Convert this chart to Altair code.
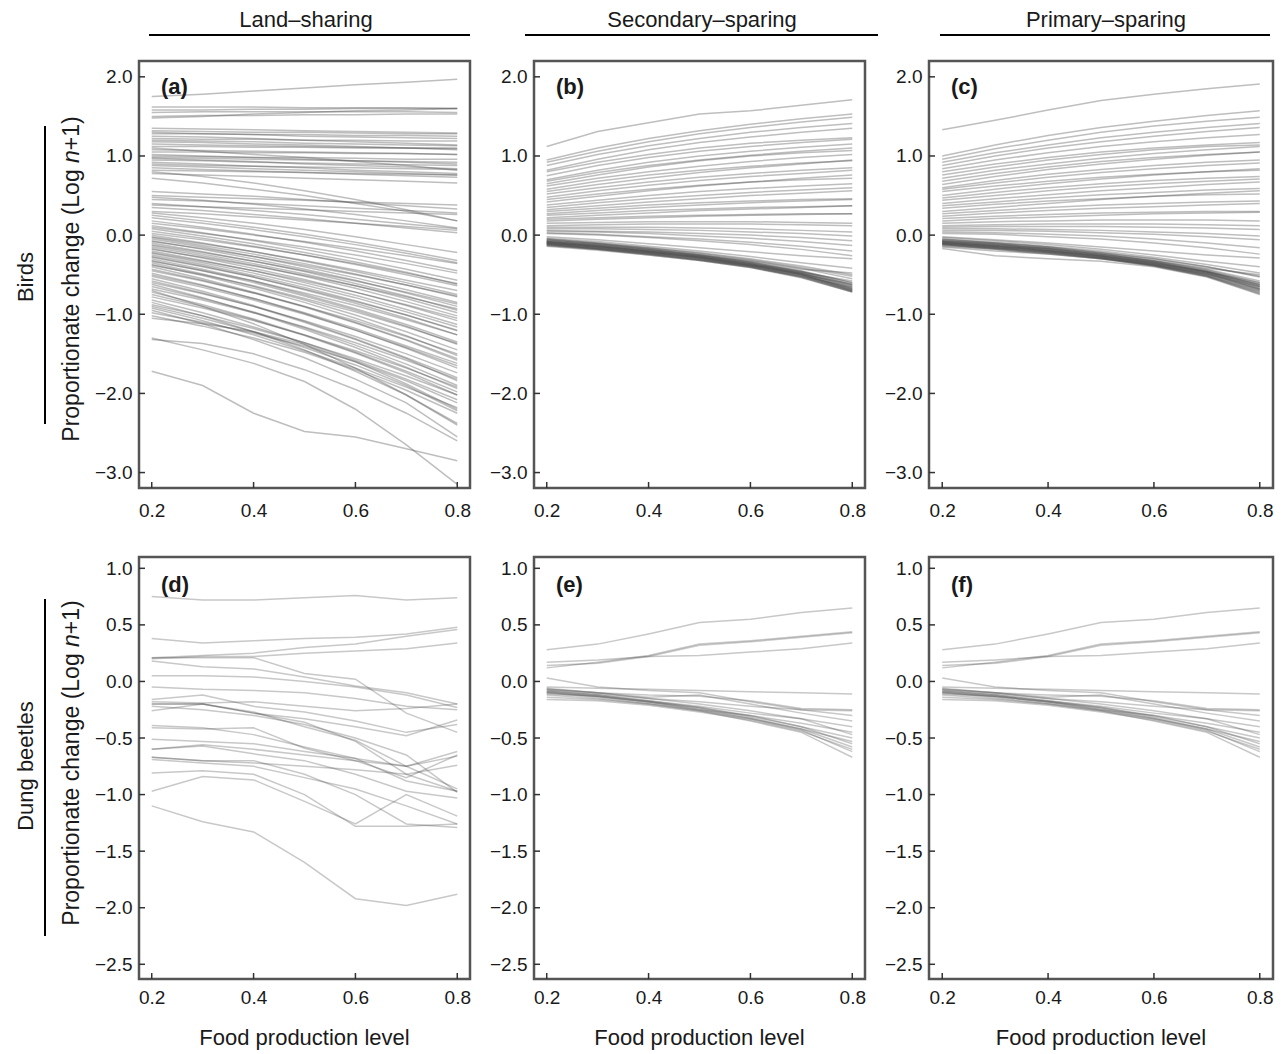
import altair as alt
import pandas as pd

LEVELS = [0.2, 0.3, 0.4, 0.5, 0.6, 0.7, 0.8]
X_TICKS = [0.2, 0.4, 0.6, 0.8]
Y_TICKS_BIRDS = [-3.0, -2.0, -1.0, 0.0, 1.0, 2.0]
Y_TICKS_BEETLES = [-2.5, -2.0, -1.5, -1.0, -0.5, 0.0, 0.5, 1.0]
HEADERS = ["Land\u2013sharing", "Secondary\u2013sparing", "Primary\u2013sparing"]
ROWS = ["Birds", "Dung beetles"]
LETTERS = ["(a)", "(b)", "(c)", "(d)", "(e)", "(f)"]
X_TITLE = "Food production level"

# ---- (a) Birds, land-sharing ----
birds_sharing = [
    [1.75, 1.78, 1.82, 1.86, 1.90, 1.93, 1.97],
    [1.62, 1.62, 1.62, 1.61, 1.61, 1.61, 1.60],
    [1.58, 1.58, 1.59, 1.59, 1.60, 1.60, 1.60],
    [1.55, 1.56, 1.56, 1.56, 1.56, 1.56, 1.55],
    [1.50, 1.51, 1.51, 1.52, 1.52, 1.53, 1.53],
    [1.48, 1.50, 1.53, 1.55, 1.57, 1.58, 1.60],
    [1.35, 1.34, 1.33, 1.32, 1.31, 1.30, 1.29],
    [1.32, 1.31, 1.30, 1.30, 1.29, 1.28, 1.28],
    [1.30, 1.28, 1.27, 1.25, 1.24, 1.23, 1.22],
    [1.28, 1.28, 1.27, 1.27, 1.26, 1.26, 1.25],
    [1.25, 1.24, 1.22, 1.20, 1.18, 1.16, 1.14],
    [1.22, 1.21, 1.21, 1.20, 1.20, 1.19, 1.19],
    [1.20, 1.19, 1.18, 1.16, 1.15, 1.14, 1.13],
    [1.18, 1.17, 1.15, 1.14, 1.12, 1.10, 1.08],
    [1.15, 1.14, 1.13, 1.12, 1.11, 1.10, 1.09],
    [1.12, 1.12, 1.11, 1.11, 1.10, 1.10, 1.10],
    [1.08, 1.07, 1.06, 1.05, 1.04, 1.03, 1.02],
    [1.05, 1.05, 1.04, 1.04, 1.03, 1.03, 1.02],
    [1.02, 1.00, 0.98, 0.96, 0.94, 0.92, 0.90],
    [1.00, 0.99, 0.98, 0.98, 0.97, 0.96, 0.96],
    [0.98, 0.97, 0.96, 0.95, 0.94, 0.93, 0.92],
    [0.97, 0.95, 0.93, 0.90, 0.88, 0.86, 0.84],
    [0.95, 0.94, 0.92, 0.91, 0.90, 0.89, 0.88],
    [0.92, 0.90, 0.87, 0.85, 0.82, 0.80, 0.78],
    [0.90, 0.88, 0.87, 0.86, 0.85, 0.84, 0.83],
    [0.88, 0.86, 0.84, 0.82, 0.80, 0.78, 0.76],
    [0.85, 0.83, 0.81, 0.79, 0.77, 0.75, 0.73],
    [0.82, 0.81, 0.80, 0.79, 0.78, 0.77, 0.76],
    [0.78, 0.76, 0.74, 0.72, 0.70, 0.68, 0.66],
    [1.10, 1.06, 1.02, 0.98, 0.93, 0.88, 0.82],
    [0.80, 0.74, 0.66, 0.56, 0.45, 0.32, 0.18],
    [0.72, 0.66, 0.58, 0.50, 0.40, 0.30, 0.18],
    [0.55, 0.52, 0.49, 0.45, 0.41, 0.37, 0.33],
    [0.50, 0.48, 0.46, 0.44, 0.42, 0.40, 0.38],
    [0.48, 0.44, 0.39, 0.33, 0.26, 0.18, 0.09],
    [0.45, 0.43, 0.40, 0.37, 0.34, 0.31, 0.28],
    [0.40, 0.36, 0.31, 0.26, 0.20, 0.14, 0.08],
    [0.38, 0.36, 0.34, 0.32, 0.30, 0.28, 0.26],
    [0.35, 0.31, 0.26, 0.21, 0.15, 0.09, 0.03],
    [0.30, 0.27, 0.23, 0.19, 0.15, 0.11, 0.06],
    [0.28, 0.22, 0.15, 0.07, -0.02, -0.12, -0.22],
    [0.25, 0.18, 0.10, 0.01, -0.09, -0.20, -0.32],
    [0.22, 0.15, 0.07, -0.02, -0.12, -0.23, -0.35],
    [0.18, 0.10, 0.01, -0.09, -0.20, -0.32, -0.45],
    [0.15, 0.08, 0.00, -0.08, -0.17, -0.26, -0.36],
    [0.12, 0.03, -0.07, -0.18, -0.30, -0.43, -0.57],
    [0.10, 0.02, -0.06, -0.15, -0.25, -0.36, -0.48],
    [0.08, -0.01, -0.11, -0.22, -0.34, -0.47, -0.62],
    [0.05, -0.04, -0.14, -0.25, -0.37, -0.50, -0.64],
    [0.02, -0.06, -0.15, -0.25, -0.36, -0.48, -0.61],
    [0.00, -0.10, -0.21, -0.33, -0.46, -0.60, -0.75],
    [-0.02, -0.11, -0.21, -0.32, -0.44, -0.57, -0.70],
    [-0.03, -0.13, -0.24, -0.36, -0.49, -0.63, -0.78],
    [-0.05, -0.15, -0.27, -0.40, -0.54, -0.69, -0.85],
    [-0.07, -0.18, -0.30, -0.43, -0.57, -0.73, -0.90],
    [-0.08, -0.17, -0.27, -0.38, -0.50, -0.63, -0.77],
    [-0.10, -0.21, -0.33, -0.46, -0.61, -0.77, -0.95],
    [-0.12, -0.22, -0.33, -0.45, -0.58, -0.72, -0.87],
    [-0.13, -0.24, -0.36, -0.49, -0.64, -0.80, -0.98],
    [-0.15, -0.26, -0.38, -0.52, -0.67, -0.84, -1.02],
    [-0.17, -0.29, -0.42, -0.56, -0.72, -0.89, -1.08],
    [-0.18, -0.28, -0.39, -0.51, -0.64, -0.78, -0.93],
    [-0.20, -0.32, -0.45, -0.60, -0.76, -0.94, -1.13],
    [-0.22, -0.33, -0.45, -0.58, -0.72, -0.88, -1.05],
    [-0.23, -0.35, -0.48, -0.63, -0.79, -0.97, -1.16],
    [-0.25, -0.37, -0.51, -0.66, -0.83, -1.01, -1.21],
    [-0.27, -0.39, -0.53, -0.69, -0.86, -1.05, -1.26],
    [-0.28, -0.40, -0.53, -0.68, -0.84, -1.01, -1.20],
    [-0.30, -0.43, -0.58, -0.75, -0.93, -1.13, -1.35],
    [-0.32, -0.45, -0.60, -0.77, -0.95, -1.15, -1.38],
    [-0.33, -0.45, -0.58, -0.73, -0.89, -1.07, -1.26],
    [-0.35, -0.49, -0.65, -0.82, -1.01, -1.22, -1.45],
    [-0.37, -0.51, -0.67, -0.85, -1.05, -1.27, -1.52],
    [-0.38, -0.50, -0.64, -0.80, -0.97, -1.16, -1.37],
    [-0.40, -0.55, -0.72, -0.90, -1.10, -1.32, -1.56],
    [-0.43, -0.57, -0.73, -0.91, -1.11, -1.33, -1.58],
    [-0.45, -0.58, -0.73, -0.90, -1.08, -1.28, -1.50],
    [-0.48, -0.63, -0.80, -0.99, -1.20, -1.43, -1.68],
    [-0.50, -0.64, -0.80, -0.98, -1.18, -1.40, -1.62],
    [-0.52, -0.66, -0.82, -1.00, -1.20, -1.42, -1.65],
    [-0.55, -0.71, -0.89, -1.09, -1.31, -1.55, -1.80],
    [-0.58, -0.73, -0.90, -1.10, -1.32, -1.56, -1.84],
    [-0.60, -0.74, -0.90, -1.08, -1.28, -1.50, -1.74],
    [-0.62, -0.79, -0.98, -1.19, -1.42, -1.67, -1.94],
    [-0.65, -0.80, -0.97, -1.17, -1.39, -1.63, -1.90],
    [-0.68, -0.82, -0.98, -1.16, -1.36, -1.58, -1.82],
    [-0.72, -0.88, -1.06, -1.26, -1.48, -1.72, -1.98],
    [-0.75, -0.90, -1.07, -1.27, -1.49, -1.74, -2.02],
    [-0.78, -0.92, -1.08, -1.26, -1.46, -1.68, -1.92],
    [-0.82, -0.98, -1.16, -1.36, -1.58, -1.82, -2.08],
    [-0.88, -1.02, -1.18, -1.36, -1.56, -1.78, -2.02],
    [-0.90, -1.05, -1.22, -1.42, -1.64, -1.90, -2.22],
    [-0.92, -1.08, -1.26, -1.46, -1.68, -1.92, -2.18],
    [-0.98, -1.10, -1.24, -1.40, -1.60, -1.84, -2.12],
    [-1.02, -1.15, -1.30, -1.48, -1.70, -1.96, -2.25],
    [-1.05, -1.12, -1.22, -1.38, -1.60, -1.88, -2.20],
    [-0.85, -1.02, -1.22, -1.45, -1.72, -2.02, -2.38],
    [-0.70, -0.90, -1.12, -1.38, -1.68, -2.02, -2.40],
    [-0.95, -1.12, -1.32, -1.55, -1.82, -2.12, -2.55],
    [-1.32, -1.37, -1.50, -1.70, -1.95, -2.25, -2.60],
    [-1.30, -1.45, -1.62, -1.85, -2.20, -2.65, -3.15],
    [-1.72, -1.90, -2.25, -2.48, -2.55, -2.70, -2.85],
]

# ---- (b) Birds, secondary-sparing ----
birds_secondary = [
    [1.12, 1.31, 1.42, 1.53, 1.57, 1.64, 1.71],
    [0.95, 1.10, 1.22, 1.32, 1.40, 1.47, 1.53],
    [0.92, 1.06, 1.18, 1.28, 1.36, 1.43, 1.49],
    [0.88, 1.02, 1.13, 1.22, 1.30, 1.36, 1.41],
    [0.82, 0.96, 1.08, 1.17, 1.24, 1.30, 1.35],
    [0.80, 0.92, 1.02, 1.10, 1.16, 1.20, 1.23],
    [0.75, 0.88, 0.98, 1.06, 1.12, 1.17, 1.21],
    [0.70, 0.82, 0.92, 1.00, 1.06, 1.11, 1.15],
    [0.68, 0.79, 0.88, 0.95, 1.01, 1.06, 1.10],
    [0.65, 0.76, 0.86, 0.94, 1.00, 1.04, 1.07],
    [0.62, 0.72, 0.80, 0.87, 0.93, 0.98, 1.02],
    [0.58, 0.68, 0.76, 0.82, 0.87, 0.91, 0.94],
    [0.55, 0.64, 0.72, 0.79, 0.85, 0.90, 0.95],
    [0.52, 0.60, 0.67, 0.73, 0.78, 0.82, 0.85],
    [0.48, 0.56, 0.63, 0.69, 0.74, 0.78, 0.82],
    [0.45, 0.52, 0.58, 0.63, 0.67, 0.70, 0.72],
    [0.42, 0.49, 0.56, 0.62, 0.67, 0.72, 0.76],
    [0.38, 0.44, 0.50, 0.55, 0.59, 0.62, 0.65],
    [0.35, 0.41, 0.46, 0.50, 0.54, 0.57, 0.60],
    [0.32, 0.37, 0.42, 0.46, 0.50, 0.53, 0.56],
    [0.30, 0.34, 0.38, 0.41, 0.43, 0.45, 0.46],
    [0.27, 0.31, 0.35, 0.38, 0.41, 0.43, 0.45],
    [0.25, 0.28, 0.31, 0.33, 0.35, 0.36, 0.37],
    [0.22, 0.25, 0.28, 0.31, 0.33, 0.35, 0.37],
    [0.20, 0.22, 0.24, 0.25, 0.26, 0.27, 0.27],
    [0.18, 0.20, 0.22, 0.24, 0.25, 0.26, 0.27],
    [0.15, 0.16, 0.17, 0.17, 0.17, 0.16, 0.15],
    [0.12, 0.13, 0.14, 0.14, 0.14, 0.13, 0.12],
    [0.10, 0.10, 0.10, 0.09, 0.08, 0.06, 0.04],
    [0.08, 0.08, 0.07, 0.06, 0.04, 0.02, -0.01],
    [0.06, 0.05, 0.04, 0.02, 0.00, -0.03, -0.07],
    [0.05, 0.04, 0.02, -0.01, -0.04, -0.08, -0.13],
    [0.03, 0.01, -0.02, -0.05, -0.09, -0.14, -0.20],
    [0.02, 0.00, -0.03, -0.07, -0.12, -0.18, -0.26],
    [-0.02, -0.06, -0.11, -0.16, -0.21, -0.26, -0.30],
    [-0.04, -0.08, -0.14, -0.20, -0.27, -0.35, -0.42],
    [-0.05, -0.10, -0.16, -0.22, -0.30, -0.39, -0.50],
    [-0.05, -0.10, -0.16, -0.23, -0.31, -0.41, -0.52],
    [-0.06, -0.11, -0.17, -0.24, -0.32, -0.42, -0.55],
    [-0.07, -0.12, -0.18, -0.25, -0.34, -0.45, -0.60],
    [-0.07, -0.12, -0.18, -0.25, -0.34, -0.46, -0.62],
    [-0.08, -0.13, -0.19, -0.26, -0.35, -0.47, -0.63],
    [-0.08, -0.13, -0.19, -0.26, -0.35, -0.46, -0.60],
    [-0.09, -0.14, -0.20, -0.27, -0.36, -0.48, -0.65],
    [-0.09, -0.14, -0.20, -0.27, -0.36, -0.48, -0.66],
    [-0.10, -0.15, -0.21, -0.28, -0.37, -0.49, -0.67],
    [-0.10, -0.15, -0.21, -0.28, -0.37, -0.49, -0.68],
    [-0.11, -0.16, -0.22, -0.29, -0.38, -0.50, -0.68],
    [-0.11, -0.16, -0.22, -0.29, -0.38, -0.50, -0.70],
    [-0.12, -0.17, -0.23, -0.30, -0.39, -0.52, -0.70],
    [-0.12, -0.17, -0.23, -0.30, -0.39, -0.51, -0.71],
    [-0.13, -0.18, -0.24, -0.31, -0.40, -0.53, -0.71],
    [-0.13, -0.18, -0.24, -0.31, -0.40, -0.53, -0.72],
    [-0.14, -0.19, -0.25, -0.32, -0.41, -0.54, -0.72],
    [-0.08, -0.13, -0.20, -0.27, -0.36, -0.47, -0.58],
    [-0.10, -0.15, -0.22, -0.29, -0.38, -0.49, -0.62],
    [-0.06, -0.11, -0.18, -0.25, -0.33, -0.43, -0.48],
    [-0.12, -0.18, -0.25, -0.32, -0.41, -0.52, -0.66],
    [-0.11, -0.17, -0.24, -0.31, -0.39, -0.50, -0.69],
    [-0.09, -0.14, -0.21, -0.28, -0.37, -0.48, -0.64],
]

# ---- (c) Birds, primary-sparing ----
birds_primary = [
    [1.33, 1.45, 1.58, 1.70, 1.78, 1.85, 1.91],
    [1.00, 1.14, 1.26, 1.36, 1.44, 1.51, 1.57],
    [0.96, 1.09, 1.20, 1.30, 1.38, 1.44, 1.49],
    [0.92, 1.04, 1.14, 1.23, 1.30, 1.36, 1.41],
    [0.88, 1.00, 1.10, 1.18, 1.25, 1.31, 1.36],
    [0.84, 0.95, 1.04, 1.12, 1.18, 1.23, 1.27],
    [0.80, 0.90, 0.98, 1.05, 1.10, 1.14, 1.17],
    [0.76, 0.86, 0.95, 1.02, 1.08, 1.12, 1.14],
    [0.72, 0.82, 0.90, 0.97, 1.03, 1.08, 1.12],
    [0.68, 0.78, 0.86, 0.93, 0.98, 1.02, 1.05],
    [0.64, 0.74, 0.83, 0.90, 0.96, 1.01, 1.05],
    [0.60, 0.69, 0.77, 0.83, 0.88, 0.92, 0.95],
    [0.58, 0.66, 0.73, 0.79, 0.84, 0.88, 0.91],
    [0.55, 0.62, 0.68, 0.73, 0.77, 0.80, 0.82],
    [0.50, 0.58, 0.65, 0.71, 0.76, 0.80, 0.84],
    [0.47, 0.54, 0.60, 0.65, 0.69, 0.72, 0.74],
    [0.44, 0.50, 0.56, 0.61, 0.65, 0.68, 0.71],
    [0.40, 0.46, 0.51, 0.56, 0.60, 0.64, 0.67],
    [0.37, 0.42, 0.47, 0.51, 0.54, 0.57, 0.59],
    [0.34, 0.39, 0.43, 0.46, 0.49, 0.51, 0.52],
    [0.30, 0.35, 0.40, 0.45, 0.49, 0.53, 0.56],
    [0.27, 0.31, 0.35, 0.38, 0.40, 0.42, 0.43],
    [0.24, 0.28, 0.31, 0.34, 0.36, 0.38, 0.40],
    [0.21, 0.24, 0.26, 0.28, 0.29, 0.30, 0.30],
    [0.18, 0.21, 0.23, 0.25, 0.27, 0.28, 0.29],
    [0.15, 0.17, 0.18, 0.19, 0.19, 0.19, 0.18],
    [0.12, 0.13, 0.14, 0.14, 0.14, 0.13, 0.12],
    [0.10, 0.11, 0.11, 0.11, 0.10, 0.09, 0.07],
    [0.08, 0.08, 0.07, 0.06, 0.04, 0.02, -0.01],
    [0.06, 0.06, 0.05, 0.03, 0.01, -0.02, -0.06],
    [0.04, 0.03, 0.01, -0.01, -0.05, -0.10, -0.16],
    [0.02, 0.01, -0.02, -0.05, -0.10, -0.16, -0.24],
    [-0.02, -0.06, -0.10, -0.15, -0.20, -0.25, -0.29],
    [-0.03, -0.07, -0.12, -0.18, -0.25, -0.33, -0.40],
    [-0.05, -0.09, -0.14, -0.20, -0.28, -0.37, -0.48],
    [-0.05, -0.10, -0.15, -0.22, -0.30, -0.40, -0.52],
    [-0.06, -0.10, -0.15, -0.22, -0.30, -0.40, -0.53],
    [-0.07, -0.11, -0.16, -0.23, -0.32, -0.43, -0.58],
    [-0.07, -0.12, -0.17, -0.24, -0.33, -0.44, -0.60],
    [-0.08, -0.12, -0.17, -0.24, -0.33, -0.45, -0.62],
    [-0.08, -0.13, -0.18, -0.25, -0.34, -0.46, -0.63],
    [-0.09, -0.13, -0.18, -0.25, -0.34, -0.46, -0.64],
    [-0.09, -0.14, -0.19, -0.26, -0.35, -0.47, -0.65],
    [-0.10, -0.14, -0.19, -0.26, -0.35, -0.47, -0.66],
    [-0.10, -0.15, -0.20, -0.27, -0.36, -0.48, -0.67],
    [-0.11, -0.15, -0.20, -0.27, -0.36, -0.48, -0.68],
    [-0.11, -0.16, -0.21, -0.28, -0.37, -0.49, -0.69],
    [-0.12, -0.16, -0.21, -0.28, -0.37, -0.50, -0.70],
    [-0.12, -0.17, -0.22, -0.29, -0.38, -0.51, -0.71],
    [-0.13, -0.17, -0.22, -0.29, -0.38, -0.51, -0.72],
    [-0.14, -0.18, -0.23, -0.30, -0.39, -0.52, -0.73],
    [-0.15, -0.20, -0.24, -0.30, -0.39, -0.52, -0.74],
    [-0.17, -0.26, -0.30, -0.33, -0.40, -0.53, -0.75],
    [-0.09, -0.13, -0.19, -0.26, -0.35, -0.46, -0.60],
    [-0.11, -0.16, -0.22, -0.29, -0.37, -0.49, -0.65],
    [-0.07, -0.11, -0.17, -0.24, -0.32, -0.42, -0.50],
    [-0.12, -0.18, -0.24, -0.30, -0.38, -0.49, -0.68],
    [-0.10, -0.14, -0.20, -0.27, -0.36, -0.47, -0.62],
]

# ---- (d) Dung beetles, land-sharing ----
beetles_sharing = [
    [0.75, 0.72, 0.72, 0.74, 0.76, 0.72, 0.74],
    [0.38, 0.34, 0.36, 0.38, 0.39, 0.42, 0.48],
    [0.21, 0.23, 0.25, 0.30, 0.33, 0.40, 0.46],
    [0.20, 0.22, 0.22, 0.25, 0.27, 0.29, 0.34],
    [0.21, 0.21, 0.21, 0.07, 0.02, -0.28, -0.45],
    [0.18, 0.13, 0.11, 0.04, -0.04, -0.10, -0.20],
    [0.05, 0.05, 0.04, 0.00, -0.05, -0.12, -0.23],
    [-0.05, -0.07, -0.08, -0.10, -0.15, -0.22, -0.25],
    [-0.18, -0.19, -0.18, -0.22, -0.26, -0.24, -0.20],
    [-0.16, -0.12, -0.22, -0.27, -0.35, -0.45, -0.38],
    [-0.20, -0.20, -0.28, -0.33, -0.40, -0.48, -0.34],
    [-0.22, -0.25, -0.30, -0.38, -0.50, -0.65, -0.98],
    [-0.20, -0.20, -0.28, -0.36, -0.53, -0.82, -0.97],
    [-0.26, -0.20, -0.27, -0.40, -0.52, -0.75, -0.95],
    [-0.39, -0.41, -0.47, -0.58, -0.68, -0.88, -0.97],
    [-0.41, -0.42, -0.41, -0.59, -0.70, -0.75, -0.62],
    [-0.51, -0.53, -0.55, -0.62, -0.68, -0.75, -0.66],
    [-0.60, -0.57, -0.64, -0.70, -0.82, -0.97, -1.03],
    [-0.60, -0.56, -0.60, -0.65, -0.70, -0.85, -0.65],
    [-0.67, -0.70, -0.72, -0.75, -0.78, -0.82, -0.74],
    [-0.67, -0.70, -0.70, -0.82, -1.00, -1.26, -1.29],
    [-0.69, -0.72, -0.75, -0.85, -0.95, -1.10, -1.26],
    [-0.81, -0.79, -0.82, -1.00, -1.28, -1.28, -1.26],
    [-0.97, -0.84, -0.87, -1.06, -1.26, -1.00, -1.19],
    [-1.10, -1.24, -1.33, -1.60, -1.92, -1.98, -1.88],
]

# ---- (e) Dung beetles, secondary-sparing ----
beetles_secondary = [
    [0.28, 0.33, 0.42, 0.52, 0.55, 0.61, 0.65],
    [0.17, 0.19, 0.22, 0.23, 0.26, 0.29, 0.34],
    [0.12, 0.17, 0.23, 0.33, 0.36, 0.40, 0.44],
    [0.14, 0.16, 0.22, 0.32, 0.35, 0.39, 0.43],
    [0.03, -0.05, -0.08, -0.10, -0.18, -0.25, -0.30],
    [-0.05, -0.06, -0.07, -0.08, -0.09, -0.10, -0.11],
    [-0.07, -0.10, -0.12, -0.13, -0.17, -0.24, -0.25],
    [-0.08, -0.11, -0.15, -0.18, -0.22, -0.25, -0.26],
    [-0.06, -0.10, -0.14, -0.12, -0.20, -0.28, -0.35],
    [-0.09, -0.12, -0.17, -0.22, -0.28, -0.33, -0.40],
    [-0.10, -0.13, -0.18, -0.23, -0.30, -0.37, -0.45],
    [-0.08, -0.12, -0.17, -0.23, -0.31, -0.40, -0.55],
    [-0.09, -0.13, -0.18, -0.24, -0.32, -0.42, -0.58],
    [-0.10, -0.14, -0.19, -0.25, -0.33, -0.43, -0.62],
    [-0.12, -0.15, -0.20, -0.26, -0.35, -0.45, -0.67],
    [-0.11, -0.13, -0.18, -0.25, -0.30, -0.40, -0.50],
    [-0.14, -0.16, -0.20, -0.26, -0.33, -0.42, -0.53],
    [-0.16, -0.17, -0.21, -0.27, -0.34, -0.44, -0.60],
    [-0.07, -0.10, -0.15, -0.20, -0.26, -0.33, -0.47],
]

# ---- (f) Dung beetles, primary-sparing ----
beetles_primary = [
    [0.28, 0.33, 0.42, 0.52, 0.55, 0.61, 0.65],
    [0.17, 0.19, 0.22, 0.23, 0.26, 0.29, 0.34],
    [0.12, 0.17, 0.23, 0.33, 0.36, 0.40, 0.44],
    [0.14, 0.16, 0.22, 0.32, 0.35, 0.39, 0.43],
    [0.03, -0.05, -0.08, -0.10, -0.18, -0.25, -0.30],
    [-0.05, -0.06, -0.07, -0.08, -0.09, -0.10, -0.11],
    [-0.07, -0.10, -0.12, -0.13, -0.17, -0.24, -0.25],
    [-0.08, -0.11, -0.15, -0.18, -0.22, -0.25, -0.26],
    [-0.06, -0.10, -0.14, -0.12, -0.20, -0.28, -0.35],
    [-0.09, -0.12, -0.17, -0.22, -0.28, -0.33, -0.40],
    [-0.10, -0.13, -0.18, -0.23, -0.30, -0.37, -0.45],
    [-0.08, -0.12, -0.17, -0.23, -0.31, -0.40, -0.55],
    [-0.09, -0.13, -0.18, -0.24, -0.32, -0.42, -0.58],
    [-0.10, -0.14, -0.19, -0.25, -0.33, -0.43, -0.62],
    [-0.12, -0.15, -0.20, -0.26, -0.35, -0.45, -0.67],
    [-0.11, -0.13, -0.18, -0.25, -0.30, -0.40, -0.50],
    [-0.14, -0.16, -0.20, -0.26, -0.33, -0.42, -0.53],
    [-0.16, -0.17, -0.21, -0.27, -0.34, -0.44, -0.60],
    [-0.07, -0.10, -0.15, -0.20, -0.26, -0.33, -0.47],
]

FONT = "Liberation Sans"
INK = "#1a1a1a"
LINE_COLOR = "#4a4a4a"


def make_df(series):
    rows = []
    for i, s in enumerate(series):
        for lv, v in zip(LEVELS, s):
            rows.append({"sp": i, "level": lv, "value": v})
    return pd.DataFrame(rows)


def one(text=""):
    return pd.DataFrame({"t": [text]})


def text_layer(text, x, y, size=22, angle=0, align="center", baseline="middle",
               weight="normal", style="normal"):
    return alt.Chart(one(text)).mark_text(
        font=FONT, fontSize=size, angle=angle, align=align, baseline=baseline,
        fontWeight=weight, fontStyle=style, color=INK,
    ).encode(x=alt.value(x), y=alt.value(y), text="t:N")


def ytitle_layers(cx, cy, size=23):
    # "Proportionate change (Log n+1)" with italic n, rotated
    w1 = 12.118 * size
    w2 = 0.556 * size
    L = 14.147 * size
    y0 = cy + L / 2
    return [
        text_layer("Proportionate change (Log", cx, y0, size, 270, "left"),
        text_layer("n", cx, y0 - w1, size, 270, "left", style="italic"),
        text_layer("+1)", cx, y0 - w1 - w2, size, 270, "left"),
    ]


def panel(series, W, H, ydomain, yticks, letter, letter_y, xlabel_pad, opacity,
          header=None, row=None, ytitle_cy=None, xtitle=False):
    x_enc = alt.X(
        "level:Q",
        scale=alt.Scale(domain=[0.175, 0.825], nice=False, zero=False),
        axis=alt.Axis(values=X_TICKS, format=".1f", title=None, domain=False,
                      ticks=False, tickSize=0, grid=False, labelPadding=xlabel_pad,
                      labelFontSize=19, labelFont=FONT, labelColor=INK),
    )
    y_enc = alt.Y(
        "value:Q",
        scale=alt.Scale(domain=ydomain, nice=False, zero=False),
        axis=alt.Axis(values=yticks, format=".1f", title=None, domain=False,
                      ticks=False, tickSize=0, grid=False, labelPadding=7,
                      labelFontSize=19, labelFont=FONT, labelColor=INK),
    )
    lines = alt.Chart(make_df(series)).mark_line(
        stroke=LINE_COLOR, strokeOpacity=opacity, strokeWidth=1.5
    ).encode(x=x_enc, y=y_enc, detail="sp:N")
    ytick = alt.Chart(pd.DataFrame({"value": yticks})).mark_rule(
        color="#333333", strokeWidth=1.5
    ).encode(y=y_enc, x=alt.value(0), x2=alt.value(6))
    xtick = alt.Chart(pd.DataFrame({"level": X_TICKS})).mark_rule(
        color="#333333", strokeWidth=1.5
    ).encode(x=x_enc, y=alt.value(H), y2=alt.value(H - 6))
    layers = [lines, ytick, xtick,
              text_layer(letter, 22, letter_y, 22, align="left",
                         baseline="alphabetic", weight="bold")]
    if header is not None:
        htext, hx, lx1, lx2 = header
        layers.append(text_layer(htext, hx, -41, 22))
        layers.append(alt.Chart(one()).mark_rule(color="black", strokeWidth=2).encode(
            x=alt.value(lx1), x2=alt.value(lx2), y=alt.value(-26)))
    if row is not None:
        rtext, ry, ly1, ly2 = row
        layers.append(text_layer(rtext, -113, ry, 22, 270))
        layers.append(alt.Chart(one()).mark_rule(color="black", strokeWidth=2).encode(
            x=alt.value(-94), y=alt.value(ly1), y2=alt.value(ly2)))
    if ytitle_cy is not None:
        layers += ytitle_layers(-67, ytitle_cy)
    if xtitle:
        layers.append(text_layer(X_TITLE, W / 2, H + 59, 22))
    return alt.layer(*layers).properties(width=W, height=H)


TOP_H = 427
BOT_H = 422
BIRD_DOM = [-3.195, 2.2]
BEET_DOM = [-2.63, 1.10]
BIRD_OP = 0.36
BEET_OP = 0.3

pa = panel(birds_sharing, 331, TOP_H, BIRD_DOM, Y_TICKS_BIRDS, LETTERS[0], 33, 13, BIRD_OP,
           header=(HEADERS[0], 167, 10, 331), row=(ROWS[0], 216, 65, 363), ytitle_cy=218)
pb = panel(birds_secondary, 331, TOP_H, BIRD_DOM, Y_TICKS_BIRDS, LETTERS[1], 33, 13, BIRD_OP,
           header=(HEADERS[1], 168, -9, 344))
pc = panel(birds_primary, 344, TOP_H, BIRD_DOM, Y_TICKS_BIRDS, LETTERS[2], 33, 13, BIRD_OP,
           header=(HEADERS[2], 177, 11, 341))
pd_ = panel(beetles_sharing, 331, BOT_H, BEET_DOM, Y_TICKS_BEETLES, LETTERS[3], 35, 9, BEET_OP,
            row=(ROWS[1], 209, 42, 379), ytitle_cy=206, xtitle=True)
pe = panel(beetles_secondary, 331, BOT_H, BEET_DOM, Y_TICKS_BEETLES, LETTERS[4], 35, 9, BEET_OP,
           xtitle=True)
pf = panel(beetles_primary, 344, BOT_H, BEET_DOM, Y_TICKS_BEETLES, LETTERS[5], 35, 9, BEET_OP,
           xtitle=True)

chart = alt.concat(
    pa, pb, pc, pd_, pe, pf,
    columns=3,
    spacing={"row": 69, "column": 64},
    bounds="flush",
    align="each",
).properties(
    padding={"left": 13, "top": 7, "right": 5, "bottom": 5},
    background="white",
).configure_view(stroke="#555555", strokeWidth=2.5)

chart.save("out.html", embed_options={"renderer": "svg", "actions": False})
